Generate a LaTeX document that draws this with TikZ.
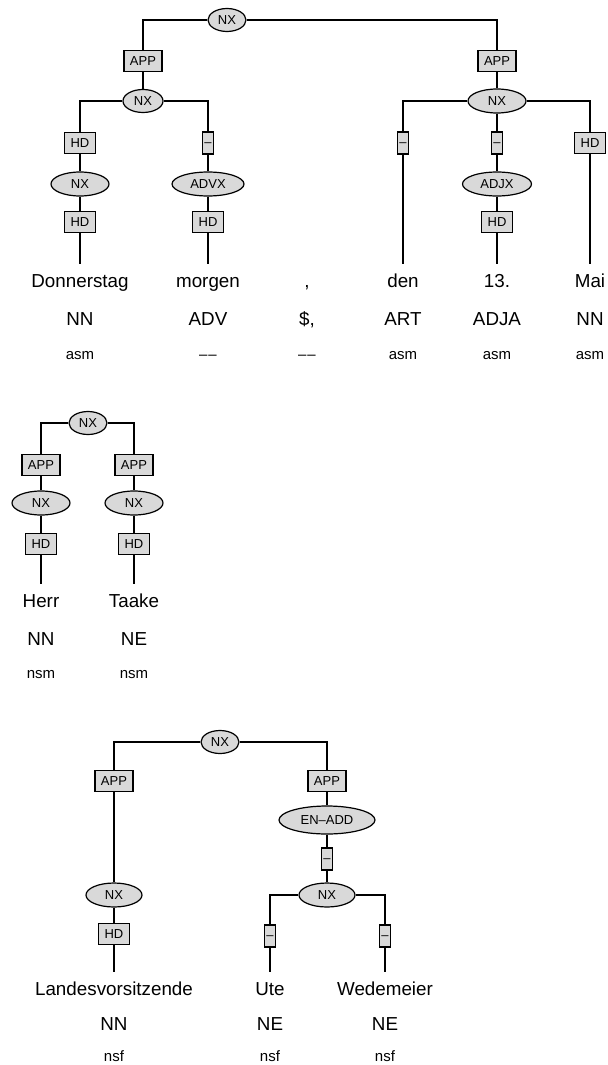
\documentclass[tikz,border=0pt]{standalone}
\usepackage{fontspec}
\setmainfont{Liberation Sans}
\usetikzlibrary{shapes.geometric}

\begin{document}
\begin{tikzpicture}[x=0.5pt, y=-0.5pt, line width=0.6pt,
    cat/.style={ellipse, draw, fill=black!15, inner sep=0pt, minimum width=29pt, minimum height=12pt, font=\fontsize{6.5}{7}\selectfont},
    smallcat/.style={cat, minimum width=19pt, minimum height=11.5pt},
    fn/.style={rectangle, draw, fill=black!15, inner xsep=3pt, inner ysep=0pt, minimum height=10.5pt, font=\fontsize{6.5}{7}\selectfont},
    dashfn/.style={fn, inner xsep=1pt, text height=3.45pt, text depth=0pt, minimum height=11pt},
    word/.style={anchor=base, inner sep=4pt, text height=7pt, text depth=2pt, font=\fontsize{9.4}{11}\selectfont},
    tag/.style={anchor=base, inner sep=0pt, font=\fontsize{9.4}{11}\selectfont},
    morph/.style={anchor=base, inner sep=0pt, font=\fontsize{7.5}{9}\selectfont}]
    		\useasboundingbox (0,0) rectangle (607,1065);

    		% Tree 1: Donnerstag morgen , den 13. Mai
    		\node[smallcat] (nxA) at (227,20) {NX};
    		\node[fn] (appA1) at (143,61) {APP};
    		\node[fn] (appA2) at (497,61) {APP};
    		\node[smallcat, minimum width=20pt] (nxA1) at (143,101) {NX};
    		\node[fn] (hdA1) at (80,143) {HD};
    		\node[dashfn] (dA2) at (208,143) {–};
    		\node[cat] (nxA11) at (80,184) {NX};
    		\node[cat, minimum width=36pt] (advx) at (208,184) {ADVX};
    		\node[fn] (hdA11) at (80,222) {HD};
    		\node[fn] (hdA21) at (208,222) {HD};
    		\node[cat] (nxA2) at (497,101) {NX};
    		\node[dashfn] (dA3) at (403,143) {–};
    		\node[dashfn] (dA4) at (497,143) {–};
    		\node[fn] (hdA5) at (590,143) {HD};
    		\node[cat, minimum width=34.5pt] (adjx) at (497,184) {ADJX};
    		\node[fn] (hdA41) at (497,222) {HD};

    		% Words, tags and morphology of tree 1
    		\node[word] (wA1) at (80,287) {Donnerstag};
    		\node[word] (wA2) at (208,287) {morgen};
    		\node[word] (wA3) at (307,287) {,};
    		\node[word] (wA4) at (403,287) {den};
    		\node[word] (wA5) at (497,287) {13.};
    		\node[word] (wA6) at (590,287) {Mai};
    		\node[tag] (tA1) at (80,325) {NN};
    		\node[tag] (tA2) at (208,325) {ADV};
    		\node[tag] (tA3) at (307,325) {\$,};
    		\node[tag] (tA4) at (403,325) {ART};
    		\node[tag] (tA5) at (497,325) {ADJA};
    		\node[tag] (tA6) at (590,325) {NN};
    		\node[morph] (mA1) at (80,359) {asm};
    		\node[morph] (mA2) at (208,359) {–\kern0.06em–};
    		\node[morph] (mA3) at (307,359) {–\kern0.06em–};
    		\node[morph] (mA4) at (403,359) {asm};
    		\node[morph] (mA5) at (497,359) {asm};
    		\node[morph] (mA6) at (590,359) {asm};

    		% Edges of tree 1
    		\draw (nxA.west) -| (appA1);
    		\draw (nxA.east) -| (appA2);
    		\draw (appA1) -- (nxA1);
    		\draw (nxA1.west) -| (hdA1);
    		\draw (nxA1.east) -| (dA2);
    		\draw (hdA1) -- (nxA11) -- (hdA11) -- (wA1);
    		\draw (dA2) -- (advx) -- (hdA21) -- (wA2);
    		\draw (appA2) -- (nxA2);
    		\draw (nxA2.west) -| (dA3);
    		\draw (nxA2) -- (dA4);
    		\draw (nxA2.east) -| (hdA5);
    		\draw (dA3) -- (wA4);
    		\draw (dA4) -- (adjx) -- (hdA41) -- (wA5);
    		\draw (hdA5) -- (wA6);

    		% Tree 2: Herr Taake
    		\node[smallcat] (nxB) at (88,423) {NX};
    		\node[fn] (appB1) at (41,465) {APP};
    		\node[fn] (appB2) at (134,465) {APP};
    		\node[cat] (nxB1) at (41,503) {NX};
    		\node[cat] (nxB2) at (134,503) {NX};
    		\node[fn] (hdB1) at (41,544) {HD};
    		\node[fn] (hdB2) at (134,544) {HD};
    		\node[word] (wB1) at (41,607) {Herr};
    		\node[word] (wB2) at (134,607) {Taake};
    		\node[tag] (tB1) at (41,645) {NN};
    		\node[tag] (tB2) at (134,645) {NE};
    		\node[morph] (mB1) at (41,678) {nsm};
    		\node[morph] (mB2) at (134,678) {nsm};

    		% Edges of tree 2
    		\draw (nxB.west) -| (appB1);
    		\draw (nxB.east) -| (appB2);
    		\draw (appB1) -- (nxB1) -- (hdB1) -- (wB1);
    		\draw (appB2) -- (nxB2) -- (hdB2) -- (wB2);

    		% Tree 3: Landesvorsitzende Ute Wedemeier
    		\node[smallcat] (nxC) at (220,742) {NX};
    		\node[fn] (appC1) at (114,781) {APP};
    		\node[fn] (appC2) at (327,781) {APP};
    		\node[cat, minimum width=28pt] (nxC1) at (114,895) {NX};
    		\node[fn] (hdC1) at (114,934) {HD};
    		\node[cat, minimum width=48pt, minimum height=14pt] (enadd) at (327,820) {EN–ADD};
    		\node[dashfn] (dC) at (327,859) {–};
    		\node[cat, minimum width=28pt] (nxC2) at (327,895) {NX};
    		\node[dashfn] (dC1) at (270,936) {–};
    		\node[dashfn] (dC2) at (385,936) {–};
    		\node[word] (wC1) at (114,995) {Landesvorsitzende};
    		\node[word] (wC2) at (270,995) {Ute};
    		\node[word] (wC3) at (385,995) {Wedemeier};
    		\node[tag] (tC1) at (114,1030) {NN};
    		\node[tag] (tC2) at (270,1030) {NE};
    		\node[tag] (tC3) at (385,1030) {NE};
    		\node[morph] (mC1) at (114,1061) {nsf};
    		\node[morph] (mC2) at (270,1061) {nsf};
    		\node[morph] (mC3) at (385,1061) {nsf};

    		% Edges of tree 3
    		\draw (nxC.west) -| (appC1);
    		\draw (nxC.east) -| (appC2);
    		\draw (appC1) -- (nxC1) -- (hdC1) -- (wC1);
    		\draw (appC2) -- (enadd) -- (dC) -- (nxC2);
    		\draw (nxC2.west) -| (dC1);
    		\draw (nxC2.east) -| (dC2);
    		\draw (dC1) -- (wC2);
    		\draw (dC2) -- (wC3);
    	\end{tikzpicture}
\end{document}
